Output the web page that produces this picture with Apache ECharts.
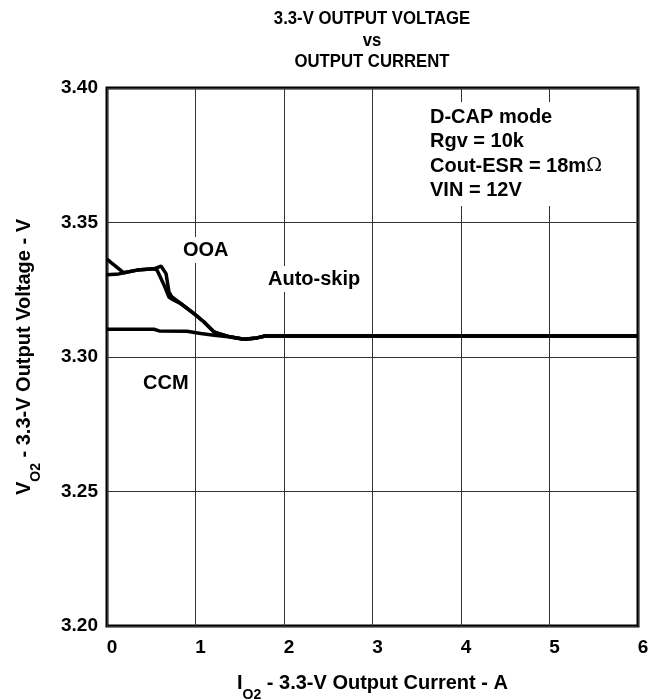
<!DOCTYPE html>
<html>
<head>
<meta charset="utf-8">
<script src="https://cdn.jsdelivr.net/npm/echarts@6/dist/echarts.min.js"></script>
<style>html,body{margin:0;padding:0;background:#fff;}#c{width:660px;height:700px;}</style>
</head>
<body>
<div id="c"></div>
<script>
// Tick labels
const xTicks = [0, 1, 2, 3, 4, 5, 6];
const yTicks = [3.20, 3.25, 3.30, 3.35, 3.40];
const titleLines = ['3.3-V OUTPUT VOLTAGE', 'vs', 'OUTPUT CURRENT'];

// OOA curve (starts high at 0 A)
const ooaX = [0, 0.05, 0.10, 0.19, 0.34, 0.53, 0.61, 0.667, 0.70, 0.734, 0.836, 0.983, 1.096, 1.21, 1.266, 1.40, 1.548, 1.695, 1.785, 2.5, 3, 4, 5, 6];
const ooaY = [3.3364, 3.3350, 3.3337, 3.3313, 3.3323, 3.3328, 3.3338, 3.3310, 3.3242, 3.3223, 3.3198, 3.3161, 3.3130, 3.3093, 3.3087, 3.3074, 3.3066, 3.3071, 3.3078, 3.3078, 3.3078, 3.3078, 3.3078, 3.3078];

// Auto-skip curve
const skipX = [0, 0.135, 0.19, 0.34, 0.53, 0.565, 0.644, 0.70, 0.734, 0.836, 0.983, 1.096, 1.21, 1.266, 1.40, 1.548, 1.695, 1.785, 2.5, 3, 4, 5, 6];
const skipY = [3.3306, 3.3309, 3.3313, 3.3323, 3.3328, 3.3323, 3.3268, 3.3223, 3.3215, 3.3198, 3.3161, 3.3130, 3.3093, 3.3087, 3.3074, 3.3066, 3.3071, 3.3078, 3.3078, 3.3078, 3.3078, 3.3078, 3.3078];

// CCM curve
const ccmX = [0, 0.53, 0.59, 0.903, 1.06, 1.21, 1.40, 1.548, 1.695, 1.785, 2.5, 3, 4, 5, 6];
const ccmY = [3.3103, 3.3103, 3.3097, 3.3096, 3.3087, 3.3081, 3.3074, 3.3066, 3.3071, 3.3078, 3.3078, 3.3078, 3.3078, 3.3078, 3.3078];

const pair = (xs, ys) => xs.map((x, i) => [x, ys[i]]);
const FONT = 'Liberation Sans, Arial, sans-serif';

const chart = echarts.init(document.getElementById('c'), null, {renderer: 'canvas'});
const lineSeries = (name, data) => ({
  name, type: 'line', data, showSymbol: false, symbol: 'none',
  lineStyle: {color: '#000', width: 3.5}, z: 5, animation: false
});
const richName = {
  i: {fontFamily: FONT, fontWeight: 'bold', fontSize: 20, color: '#000', verticalAlign: 'bottom', lineHeight: 24},
  s: {fontFamily: FONT, fontWeight: 'bold', fontSize: 14, color: '#000', verticalAlign: 'bottom', lineHeight: 24, padding: [0, 0, -9, 0]},
  t: {fontFamily: FONT, fontWeight: 'bold', fontSize: 20, color: '#000', verticalAlign: 'bottom', lineHeight: 24}
};

const titleGraphics = titleLines.map((t, i) => ({
  type: 'text', x: 372, y: 19 + i * 21.5, scaleX: 0.88, z: 100,
  style: {text: t, font: 'bold 19px ' + FONT, fill: '#000', textAlign: 'center', textVerticalAlign: 'middle'}
}));

chart.setOption({
  animation: false,
  backgroundColor: '#fff',
  grid: {left: 107, right: 22, top: 88, bottom: 74, containLabel: false, outerBoundsMode: 'none',
         show: true, borderColor: '#000', borderWidth: 3, backgroundColor: 'transparent'},
  xAxis: {
    type: 'value', min: xTicks[0], max: xTicks[xTicks.length - 1], interval: 1,
    axisLine: {show: false}, axisTick: {show: false},
    splitLine: {show: true, lineStyle: {color: '#333', width: 1}},
    axisLabel: {fontFamily: FONT, fontWeight: 'bold', fontSize: 19, color: '#000', margin: 12, padding: [0, 0, 0, 10]},
    name: '{i|I}{s|O2}{t| - 3.3-V Output Current - A}',
    nameLocation: 'middle', nameGap: 43,
    nameTextStyle: {rich: richName}
  },
  yAxis: {
    type: 'value', min: yTicks[0], max: yTicks[yTicks.length - 1], interval: 0.05,
    axisLine: {show: false}, axisTick: {show: false},
    splitLine: {show: true, lineStyle: {color: '#333', width: 1}},
    axisLabel: {fontFamily: FONT, fontWeight: 'bold', fontSize: 19, color: '#000', margin: 9, formatter: v => v.toFixed(2)},
    name: '{i|V}{s|O2}{t| - 3.3-V Output Voltage - V}',
    nameLocation: 'middle', nameGap: 73, nameRotate: 90,
    nameTextStyle: {rich: richName}
  },
  series: [
    lineSeries('OOA', pair(ooaX, ooaY)),
    lineSeries('Auto-skip', pair(skipX, skipY)),
    lineSeries('CCM', pair(ccmX, ccmY))
  ],
  graphic: titleGraphics.concat([
    {type: 'text', left: 180, top: 237, z: 100, style: {text: 'OOA', font: 'bold 20px ' + FONT, fill: '#000', backgroundColor: '#fff', padding: [3, 3]}},
    {type: 'text', left: 265, top: 266, z: 100, style: {text: 'Auto-skip', font: 'bold 20px ' + FONT, fill: '#000', backgroundColor: '#fff', padding: [3, 3]}},
    {type: 'text', left: 140, top: 370, z: 100, style: {text: 'CCM', font: 'bold 20px ' + FONT, fill: '#000', backgroundColor: '#fff', padding: [3, 3]}},
    {type: 'text', left: 427, top: 102, z: 100, style: {
      text: '{b|D-CAP mode}\n{b|Rgv = 10k}\n{b|Cout-ESR = 18m}{o|Ω}\n{b|VIN = 12V}',
      backgroundColor: '#fff', padding: [3, 3],
      rich: {
        b: {fontFamily: FONT, fontWeight: 'bold', fontSize: 20, lineHeight: 24.5, fill: '#000'},
        o: {fontFamily: 'DejaVu Serif, serif', fontWeight: 'normal', fontSize: 19, lineHeight: 24.5, fill: '#000'}
      }
    }}
  ])
});
</script>
</body>
</html>
